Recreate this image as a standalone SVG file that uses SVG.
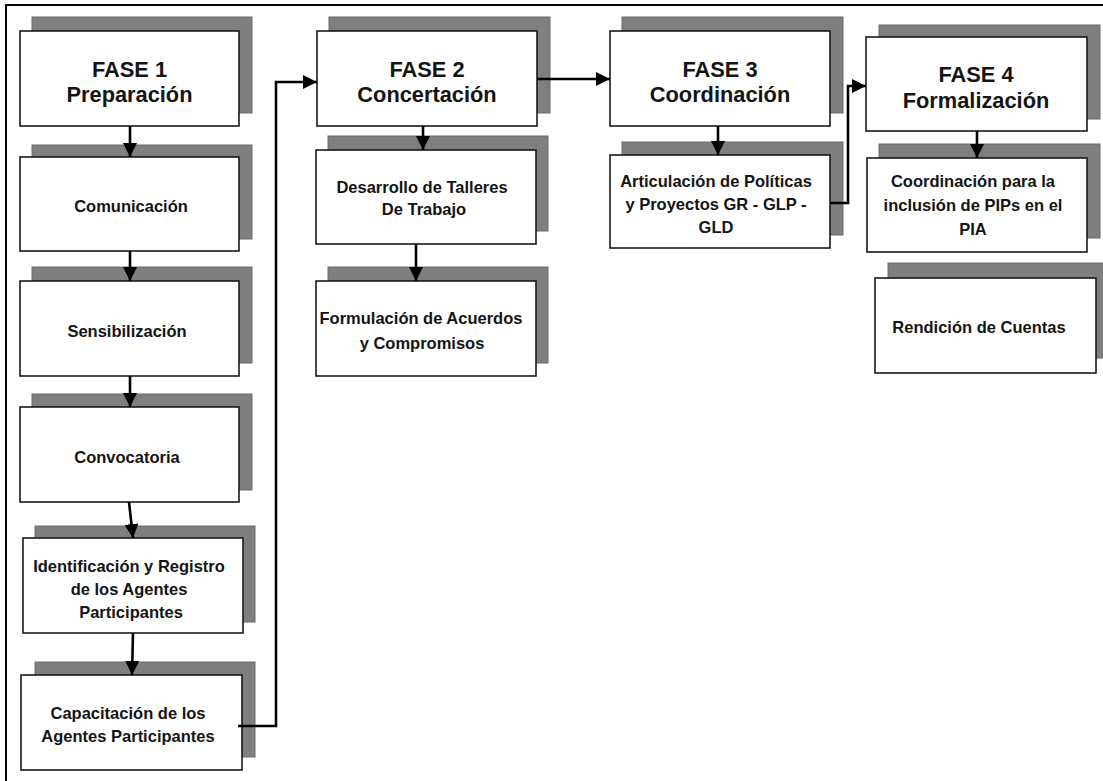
<svg xmlns="http://www.w3.org/2000/svg" width="1103" height="781" viewBox="0 0 1103 781">
<style>
.sh{fill:#7f7f7f;stroke:#6a6a6a;stroke-width:1}
.bx{fill:#fff;stroke:#1a1a1a;stroke-width:1.6}
.t{font-family:"Liberation Sans",Arial,sans-serif;font-weight:bold;font-size:16.5px;fill:#141414;text-anchor:middle}
.h{font-family:"Liberation Sans",Arial,sans-serif;font-weight:bold;font-size:21.8px;fill:#141414;text-anchor:middle}
.c{fill:none;stroke:#000;stroke-width:2.6;marker-end:url(#ah)}
</style>
<defs>
<marker id="ah" markerUnits="userSpaceOnUse" markerWidth="14" markerHeight="14" viewBox="0 0 12 12" refX="12" refY="6" orient="auto">
<path d="M0,0 L12,6 L0,12 z" fill="#000"/>
</marker>
</defs>
<rect x="0" y="0" width="1103" height="781" fill="#fff"/>
<rect x="6" y="5" width="1120" height="800" fill="none" stroke="#000" stroke-width="2"/>

<g id="fase1"><rect class="sh" x="32" y="17" width="220" height="96"/><rect class="bx" x="20" y="31" width="219" height="95"/>
<text class="h" x="129.5" y="77">FASE 1</text><text class="h" x="129.5" y="102">Preparación</text></g>
<g id="comunicacion"><rect class="sh" x="32" y="145" width="220" height="94"/><rect class="bx" x="20" y="157" width="219" height="94"/>
<text class="t" x="131" y="212">Comunicación</text></g>
<g id="sensibilizacion"><rect class="sh" x="32" y="267" width="220" height="96"/><rect class="bx" x="20" y="281" width="219" height="95"/>
<text class="t" x="127" y="337">Sensibilización</text></g>
<g id="convocatoria"><rect class="sh" x="32" y="394" width="220" height="96"/><rect class="bx" x="20" y="407" width="219" height="95"/>
<text class="t" x="127" y="463">Convocatoria</text></g>
<g id="identificacion"><rect class="sh" x="35" y="526" width="220" height="96"/><rect class="bx" x="23" y="538" width="220" height="95"/>
<text class="t" x="129" y="572">Identificación y Registro</text><text class="t" x="129" y="595">de los Agentes</text><text class="t" x="131" y="618">Participantes</text></g>
<g id="capacitacion"><rect class="sh" x="35" y="662" width="220" height="95"/><rect class="bx" x="21" y="675" width="221" height="95"/>
<text class="t" x="128" y="719">Capacitación de los</text><text class="t" x="128" y="742">Agentes Participantes</text></g>

<g id="fase2"><rect class="sh" x="329" y="17" width="221" height="96"/><rect class="bx" x="317" y="31" width="220" height="95"/>
<text class="h" x="427" y="77">FASE 2</text><text class="h" x="427" y="102">Concertación</text></g>
<g id="desarrollo"><rect class="sh" x="328" y="136" width="220" height="95"/><rect class="bx" x="316" y="150" width="220" height="94"/>
<text class="t" x="422" y="193">Desarrollo de Talleres</text><text class="t" x="424" y="215">De Trabajo</text></g>
<g id="formulacion"><rect class="sh" x="328" y="267" width="220" height="96"/><rect class="bx" x="316" y="281" width="220" height="95"/>
<text class="t" x="421" y="324">Formulación de Acuerdos</text><text class="t" x="422" y="349">y Compromisos</text></g>

<g id="fase3"><rect class="sh" x="622" y="17" width="221" height="96"/><rect class="bx" x="610" y="31" width="220" height="95"/>
<text class="h" x="720" y="77">FASE 3</text><text class="h" x="720" y="102">Coordinación</text></g>
<g id="articulacion"><rect class="sh" x="622" y="142" width="221" height="93"/><rect class="bx" x="610" y="155" width="220" height="93"/>
<text class="t" x="716" y="187">Articulación de Políticas</text><text class="t" x="716" y="210">y Proyectos GR - GLP -</text><text class="t" x="716" y="233">GLD</text></g>

<g id="fase4"><rect class="sh" x="879" y="25" width="221" height="94"/><rect class="bx" x="866" y="37" width="221" height="94"/>
<text class="h" x="976" y="82">FASE 4</text><text class="h" x="976" y="108">Formalización</text></g>
<g id="coordinacion"><rect class="sh" x="879" y="144" width="221" height="94"/><rect class="bx" x="867" y="158" width="220" height="94"/>
<text class="t" x="973" y="187">Coordinación para la</text><text class="t" x="973" y="211">inclusión de PIPs en el</text><text class="t" x="973" y="235">PIA</text></g>
<g id="rendicion"><rect class="sh" x="888" y="263" width="221" height="95"/><rect class="bx" x="875" y="278" width="221" height="95"/>
<text class="t" x="979" y="333">Rendición de Cuentas</text></g>

<g id="connectors">
<path class="c" d="M130,126 L130,157"/>
<path class="c" d="M130,251 L130,281"/>
<path class="c" d="M130,376 L130,407"/>
<path class="c" d="M129,502 L133,538"/>
<path class="c" d="M133,633 L132,675"/>
<path class="c" d="M238,726 L276,726 L276,82 L317,82"/>
<path class="c" d="M423,126 L423,150"/>
<path class="c" d="M416,244 L416,281"/>
<path class="c" d="M537,79 L610,79"/>
<path class="c" d="M718,126 L718,155"/>
<path class="c" d="M830,203 L848,203 L848,86 L866,86"/>
<path class="c" d="M977,131 L977,158"/>
</g>
</svg>
